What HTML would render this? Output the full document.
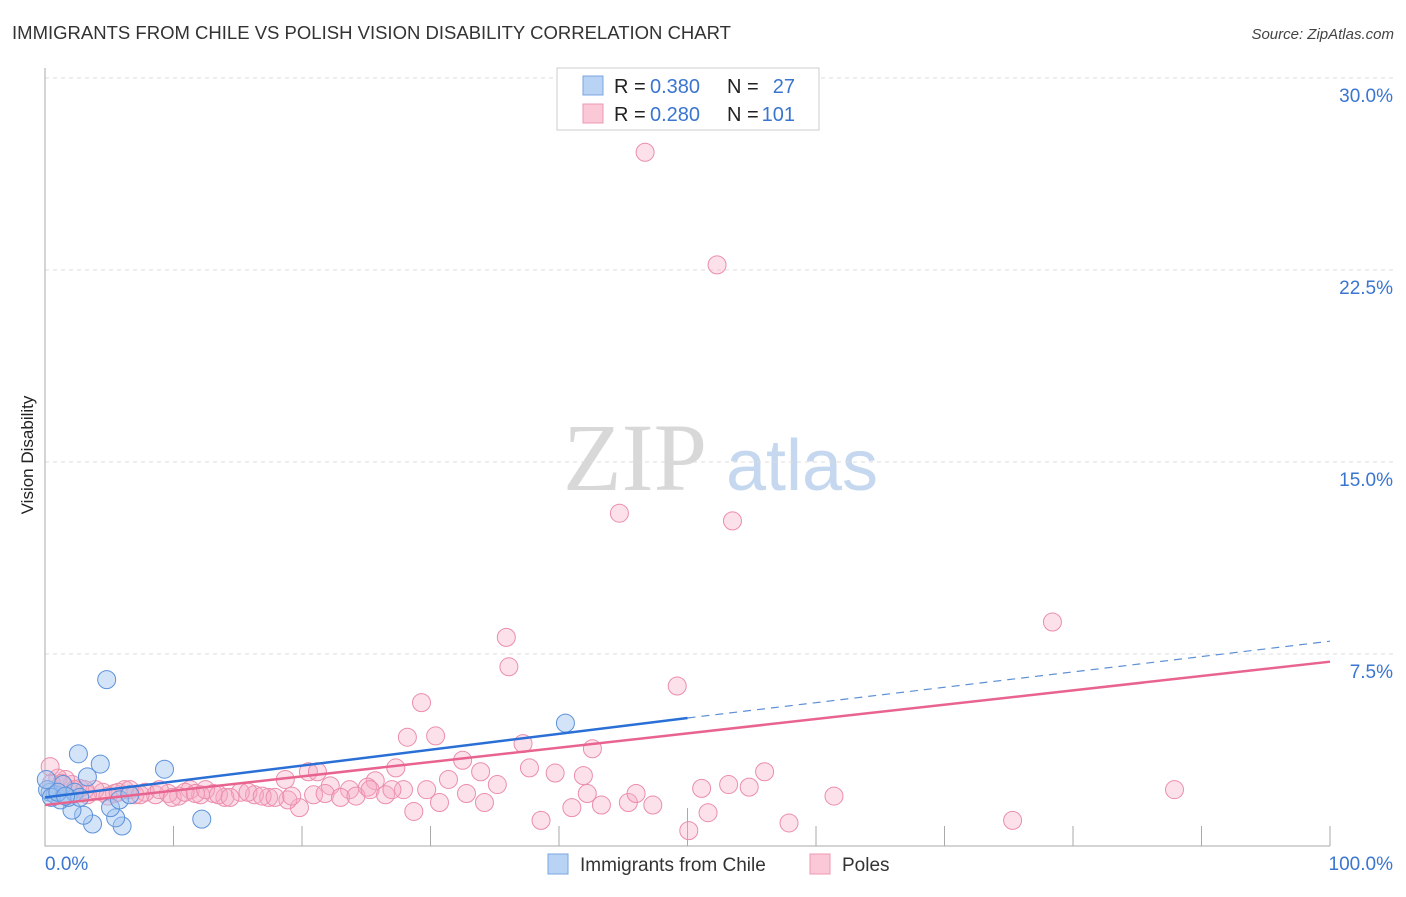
<!DOCTYPE html>
<html><head><meta charset="utf-8"><style>
body{margin:0;background:#fff;font-family:"Liberation Sans",sans-serif;}
</style></head><body>
<svg id="chart" width="1406" height="892" xmlns="http://www.w3.org/2000/svg" font-family="Liberation Sans, sans-serif">
<text x="12" y="39" font-size="18.5" fill="#333" textLength="719" lengthAdjust="spacingAndGlyphs">IMMIGRANTS FROM CHILE VS POLISH VISION DISABILITY CORRELATION CHART</text>
<text x="1394" y="39" font-size="15" fill="#444" text-anchor="end" font-style="italic">Source: ZipAtlas.com</text>
<text transform="translate(33,455) rotate(-90)" font-size="17" fill="#222" text-anchor="middle">Vision Disability</text>
<g>
<text x="635" y="490" font-size="96" fill="#d8d8d8" font-family="Liberation Serif, serif" text-anchor="middle">ZIP</text>
<text x="802" y="490" font-size="72" fill="#c5d8ef" text-anchor="middle">atlas</text>
</g>
<g id="grid"></g><g id="axes"></g><g id="pts"></g><g id="lines"></g>
<g>
<rect x="557" y="68" width="262" height="62" fill="#fff" stroke="#ccc"/>
<rect x="583" y="76" width="20" height="19" fill="#b9d3f5" stroke="#7aa6e0"/>
<rect x="583" y="104" width="20" height="19" fill="#fbc8d7" stroke="#ec98b2"/>
<text x="614" y="93" font-size="20" fill="#222">R =</text>
<text x="650" y="93" font-size="20" fill="#3a75d0">0.380</text>
<text x="727" y="93" font-size="20" fill="#222">N =</text>
<text x="795" y="93" font-size="20" fill="#3a75d0" text-anchor="end">27</text>
<text x="614" y="121" font-size="20" fill="#222">R =</text>
<text x="650" y="121" font-size="20" fill="#3a75d0">0.280</text>
<text x="727" y="121" font-size="20" fill="#222">N =</text>
<text x="795" y="121" font-size="20" fill="#3a75d0" text-anchor="end">101</text>
</g>
<g>
<rect x="548" y="854" width="20" height="20" fill="#b9d3f5" stroke="#7aa6e0"/>
<text x="580" y="871" font-size="19" fill="#333">Immigrants from Chile</text>
<rect x="810" y="854" width="20" height="20" fill="#fbc8d7" stroke="#ec98b2"/>
<text x="842" y="871" font-size="19" fill="#333">Poles</text>
</g>
</svg>
<script>
const yTicks=[7.5,15,22.5,30];
const yTickLabels=["7.5%","15.0%","22.5%","30.0%"];
const xTickLabels=["0.0%","100.0%"];
const chileX=[4.8,2.6,4.3,9.3,3.3,40.5,12.2,3.7,6.0,5.5,5.1,3.0,2.1,1.2,0.4,0.8,1.8,5.8,6.6,0.2,1.4,2.3,0.5,1.0,2.7,1.6,0.1];
const chileY=[6.5,3.6,3.2,3.0,2.7,4.8,1.05,0.86,0.78,1.1,1.5,1.2,1.4,1.8,2.1,2.0,1.9,1.8,2.0,2.2,2.4,2.1,1.9,2.1,1.9,1.95,2.6];
const polesX=[46.7,52.3,44.7,53.5,78.4,35.9,36.1,49.2,29.3,28.2,30.4,37.2,42.6,32.5,33.9,37.7,39.7,41.9,27.3,31.4,35.2,25.7,22.2,20.5,21.2,18.7,23.7,25.1,27.9,29.7,28.7,30.7,32.8,34.2,38.6,41.0,42.2,43.3,45.4,46.0,47.3,50.1,51.1,51.6,53.2,54.8,56.0,57.9,61.4,75.3,87.9,19.8,18.9,17.4,16.3,15.2,14.0,13.1,12.1,11.3,10.4,9.6,8.6,7.8,7.0,6.2,5.4,4.5,3.9,3.3,2.7,2.1,1.6,1.0,0.4,0.5,1.3,2.3,3.1,4.9,5.7,6.6,7.4,8.9,9.9,10.9,11.7,12.5,13.5,14.4,15.8,16.9,17.9,19.2,20.9,21.8,23.0,24.2,25.3,26.5,27.0];
const polesY=[27.1,22.7,13.0,12.7,8.75,8.15,7.0,6.25,5.6,4.25,4.3,4.0,3.8,3.35,2.9,3.05,2.85,2.75,3.05,2.6,2.4,2.55,2.35,2.9,2.9,2.6,2.2,2.3,2.2,2.2,1.35,1.7,2.05,1.7,1.0,1.5,2.05,1.6,1.7,2.05,1.6,0.6,2.25,1.3,2.4,2.3,2.9,0.9,1.95,1.0,2.2,1.5,1.8,1.9,2.0,2.1,1.9,2.05,2.0,2.2,1.95,2.05,2.0,2.1,2.0,2.2,2.05,2.1,2.2,2.0,2.25,2.4,2.6,2.65,3.1,2.45,2.45,2.2,2.2,1.95,2.1,2.2,2.0,2.2,1.9,2.1,2.05,2.2,2.0,1.9,2.1,1.95,1.9,1.95,2.0,2.05,1.9,1.95,2.2,2.0,2.2];
const chileLine=[1.9,5.0,8.0];
const polesLine=[1.6,7.2];
const NS="http://www.w3.org/2000/svg";
const X=v=>45+v*12.85, Y=v=>846-v*25.6;
function mk(p,t,a){const e=document.createElementNS(NS,t);for(const k in a)e.setAttribute(k,a[k]);p.appendChild(e);return e;}
const grid=document.getElementById('grid'),axes=document.getElementById('axes'),pts=document.getElementById('pts'),lines=document.getElementById('lines');
yTicks.forEach((t,i)=>{
 const g=mk(grid,'line',{x1:45,x2:1393,y1:Y(t),y2:Y(t),stroke:'#ddd','stroke-dasharray':'4,4'});
 
 
 const l=mk(grid,'text',{x:1393,y:Y(t)+24,'font-size':19,fill:'#3a75d0','text-anchor':'end'});
 l.textContent=yTickLabels[i];
 
 
});
const ax=mk(axes,'path',{d:'M45,68 V846 H1330',stroke:'#aaa',fill:'none'});


for(let i=1;i<=10;i++){
 const t=mk(axes,'line',{x1:X(i*10),x2:X(i*10),y1:i==5?808:826,y2:846,stroke:'#aaa'});
 
 
}
[[0,'start',45],[1,'end',1393]].forEach(([i,a,x])=>{
 const l=mk(axes,'text',{x:x,y:870,'font-size':19,fill:'#3a75d0','text-anchor':a});
 l.textContent=xTickLabels[i];
 
 
});
polesX.forEach((v,i)=>{
 const c=mk(pts,'circle',{cx:X(v),cy:Y(polesY[i]),r:9,fill:'rgba(246,170,194,0.35)',stroke:'#eb8eab','stroke-width':1});
 
 
});
chileX.forEach((v,i)=>{
 const c=mk(pts,'circle',{cx:X(v),cy:Y(chileY[i]),r:9,fill:'rgba(160,196,240,0.45)',stroke:'#5d92da','stroke-width':1});
 
 
});
const pl=mk(lines,'line',{x1:X(0),y1:Y(polesLine[0]),x2:X(100),y2:Y(polesLine[1]),stroke:'#e8648f','stroke-width':2.5});


const cl=mk(lines,'line',{x1:X(0),y1:Y(chileLine[0]),x2:X(50),y2:Y(chileLine[1]),stroke:'#2a6fd6','stroke-width':2.5});


const cd=mk(lines,'line',{x1:X(50),y1:Y(chileLine[1]),x2:X(100),y2:Y(chileLine[2]),stroke:'#5d8fd6','stroke-width':1.2,'stroke-dasharray':'8,6'});


</script>
</body></html>
